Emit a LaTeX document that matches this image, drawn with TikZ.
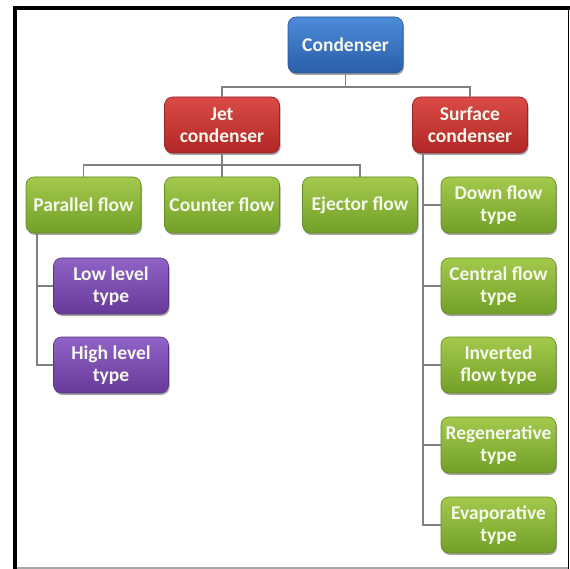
\documentclass[tikz,border=0pt]{standalone}
\usepackage{fontspec}
\setmainfont{Carlito}
\usetikzlibrary{shadows}
\definecolor{bluetop}{HTML}{4C8BD8}
\definecolor{bluebot}{HTML}{2A5EA8}
\definecolor{bluedraw}{HTML}{2B5690}
\definecolor{redtop}{HTML}{DA4B45}
\definecolor{redbot}{HTML}{B12626}
\definecolor{reddraw}{HTML}{982424}
\definecolor{greentop}{HTML}{A3C94C}
\definecolor{greenbot}{HTML}{72A028}
\definecolor{greendraw}{HTML}{628C24}
\definecolor{purptop}{HTML}{9063C6}
\definecolor{purpbot}{HTML}{66399A}
\definecolor{purpdraw}{HTML}{58347F}
\definecolor{linegray}{HTML}{7F7F7F}
\definecolor{boxtext}{HTML}{F6F8EE}
\tikzset{
  box/.style={rectangle, rounded corners=8pt, minimum width=115pt, minimum height=56pt,
    inner sep=0pt, align=center, text=boxtext, line width=0.6pt,
    font=\fontsize{19.5}{22}\selectfont\bfseries,
    drop shadow={shadow xshift=1pt, shadow yshift=-2pt, opacity=0.35, fill=black}},
  bluebox/.style={box, top color=bluetop, bottom color=bluebot, draw=bluedraw},
  redbox/.style={box, top color=redtop, bottom color=redbot, draw=reddraw},
  greenbox/.style={box, top color=greentop, bottom color=greenbot, draw=greendraw},
  purpbox/.style={box, top color=purptop, bottom color=purpbot, draw=purpdraw},
  conn/.style={draw=linegray, line width=1.3pt}
}
\begin{document}
\begin{tikzpicture}[x=1pt, y=-1pt]
\useasboundingbox (0,0) rectangle (570,569);
\fill[white] (0,0) rectangle (570,569);
% frame
\fill[black] (13,6) rectangle (17,569);
\fill[black] (13,6) rectangle (570,10);
\draw[black, line width=1pt] (568.5,10) -- (568.5,569);
\draw[gray!70, line width=1.2pt] (17,568) -- (568,568);
% nodes
\node[bluebox] (cond) at (345.5,45) {Condenser};
\node[redbox] (jet) at (222,125) {Jet\\condenser};
\node[redbox] (surf) at (470,125) {Surface\\condenser};
\node[greenbox] (par) at (83.5,205) {Parallel flow};
\node[greenbox] (cnt) at (222,205) {Counter flow};
\node[greenbox] (ejc) at (360,205) {Ejector flow};
\node[purpbox] (low) at (111,286) {Low level\\type};
\node[purpbox] (high) at (111,365) {High level\\type};
\node[greenbox] (down) at (498.5,205) {Down flow\\type};
\node[greenbox] (cent) at (498.5,286) {Central flow\\type};
\node[greenbox] (inv) at (498.5,365) {Inverted\\flow type};
\node[greenbox] (regen) at (498.5,445) {Regenerative\\type};
\node[greenbox] (evap) at (498.5,525) {Evaporative\\type};
% connectors
\coordinate (cj) at (345.5,87);
\draw[conn] (cond.south) -- (cj) -| (jet.north);
\draw[conn] (cj) -| (surf.north);
\coordinate (jj) at (222,165);
\draw[conn] (jet.south) -- (jj) -| (par.north);
\draw[conn] (jj) -- (cnt.north);
\draw[conn] (jj) -| (ejc.north);
\coordinate (pv) at (37,233);
\draw[conn] (pv) |- (low.west);
\draw[conn] (pv) |- (high.west);
\coordinate (sv) at (423,153);
\draw[conn] (sv) |- (down.west);
\draw[conn] (sv) |- (cent.west);
\draw[conn] (sv) |- (inv.west);
\draw[conn] (sv) |- (regen.west);
\draw[conn] (sv) |- (evap.west);
\end{tikzpicture}
\end{document}
